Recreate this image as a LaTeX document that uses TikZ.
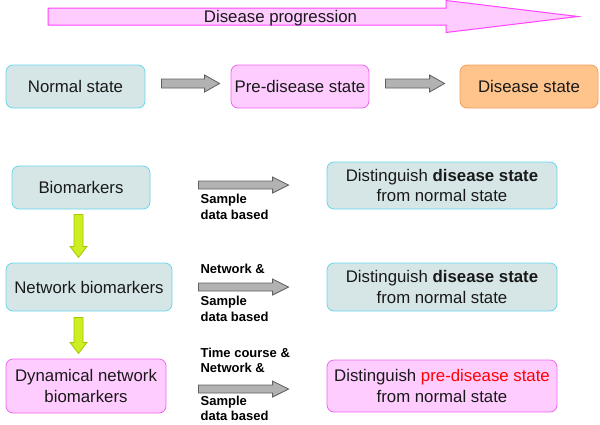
\documentclass[tikz,border=0pt]{standalone}
\usepackage{fontspec}
\setmainfont{Liberation Sans}
\usetikzlibrary{calc,positioning}
\newcommand{\panah}[6][]
	{
	\coordinate (tempc) at ($(#3)!#6!(#2)$);%start of head
	\filldraw[#1] ($(#2)!#4!90:(#3)$) -- ($(tempc)!#4!90:(#3)$) -- ($(tempc)!#5!90:(#3)$) -- (#3)
		-- ($(tempc)!#5!-90:(#3)$) -- ($(tempc)!#4!-90:(#3)$) -- ($(#2)!#4!-90:(#3)$) -- cycle;
	}
\definecolor{cyanfill}{RGB}{214,230,230}
\definecolor{cyanline}{RGB}{102,214,240}
\definecolor{pinkfill}{RGB}{255,204,255}
\definecolor{pinkline}{RGB}{238,102,238}
\definecolor{orangefill}{RGB}{255,196,140}
\definecolor{orangeline}{RGB}{240,160,96}
\definecolor{greyfill}{RGB}{178,178,178}
\definecolor{greyline}{RGB}{96,96,96}
\definecolor{greenfill}{RGB}{204,238,34}
\definecolor{greenline}{RGB}{160,200,0}
\definecolor{progline}{RGB}{255,68,255}
\tikzset{
	box/.style={draw, rounded corners=7pt, line width=0.8pt, align=center, inner sep=0pt,
		text depth=0pt, text=black!90, font=\fontsize{16.8}{20.5}\selectfont},
	cyanbox/.style={box, fill=cyanfill, draw=cyanline},
	pinkbox/.style={box, fill=pinkfill, draw=pinkline},
	orangebox/.style={box, fill=orangefill, draw=orangeline},
	greyarr/.style={fill=greyfill, draw=greyline, line width=0.8pt},
	greenarr/.style={fill=greenfill, draw=greenline, line width=0.8pt},
	progarr/.style={fill=pinkfill, draw=progline, line width=1pt},
	lbl/.style={align=left, inner sep=0pt, font=\fontsize{13}{15.5}\selectfont\bfseries}
}

\begin{document}
\begin{tikzpicture}[x=1pt,y=-1pt]
\useasboundingbox (0,0) rectangle (600,424);

% disease progression
\coordinate (pa) at (48,16.5);
\coordinate (pb) at (578,16.5);
\panah[progarr]{pa}{pb}{8.5pt}{16pt}{132pt}
\node[anchor=base, text=black!90, font=\fontsize{16.8}{20}\selectfont] (progres) at (280.5,22.5) {Disease progression};

% states
\node[cyanbox, minimum width=139pt, minimum height=43pt] (normal) at (75.5,86.5) {Normal state};
\node[pinkbox, minimum width=138pt, minimum height=43pt] (predis) at (300,86.5) {Pre-disease state};
\node[orangebox, minimum width=138pt, minimum height=43pt] (disease) at (529,86.5) {Disease state};

\coordinate (s1) at ($(normal.east)+(16,-3)$);
\coordinate (s2) at ($(predis.west)+(-11,-3)$);
\coordinate (s3) at ($(predis.east)+(16,-3)$);
\coordinate (s4) at ($(disease.west)+(-15,-3)$);
\panah[greyarr]{s1}{s2}{4.5pt}{8.5pt}{15pt}
\panah[greyarr]{s3}{s4}{4.5pt}{8.5pt}{15pt}

% biomarkers
\node[cyanbox, minimum width=138pt, minimum height=43pt] (bio) at (81,187.5) {Biomarkers};
\node[cyanbox, minimum width=166pt, minimum height=48pt] (net) at (89,287) {Network biomarkers};
\node[pinkbox, minimum width=160pt, minimum height=54pt] (dyn) at (86,386) {Dynamical network\\biomarkers};

\coordinate (h1) at ($(bio.south)+(-2.5,5)$);
\coordinate (h2) at ($(bio.south)+(-2.5,48)$);
\coordinate (h3) at ($(net.south)+(-10.5,6)$);
\coordinate (h4) at ($(net.south)+(-10.5,42)$);
\panah[greenarr]{h1}{h2}{4.5pt}{8.5pt}{11pt}
\panah[greenarr]{h3}{h4}{4.5pt}{8.5pt}{11pt}

% what each one distinguishes
\node[cyanbox, minimum width=230pt, minimum height=47pt] (dist1) at (442,185.5) {Distinguish \textbf{disease state}\\from normal state};
\node[cyanbox, minimum width=230pt, minimum height=48pt] (dist2) at (442,287) {Distinguish \textbf{disease state}\\from normal state};
\node[pinkbox, minimum width=230pt, minimum height=52pt] (dist3) at (442,386) {Distinguish \textcolor{red}{pre-disease state}\\from normal state};

\coordinate (g1) at ($(bio.east)+(48,-2.5)$);
\coordinate (g2) at ($(dist1.west)+(-38,-0.5)$);
\coordinate (g3) at ($(net.east)+(26,0)$);
\coordinate (g4) at ($(dist2.west)+(-38,0)$);
\coordinate (g5) at ($(dyn.east)+(32,3)$);
\coordinate (g6) at ($(dist3.west)+(-38,3)$);
\panah[greyarr]{g1}{g2}{4pt}{8pt}{16pt}
\panah[greyarr]{g3}{g4}{4pt}{8pt}{16pt}
\panah[greyarr]{g5}{g6}{4pt}{8pt}{16pt}

% data labels
\node[lbl, anchor=north west] (l1) at ($(g1)+(2,9)$) {Sample\\data based};
\node[lbl, anchor=base west] (l2a) at ($(g3)+(2,-14)$) {Network \&};
\node[lbl, anchor=north west] (l2b) at ($(g3)+(2,9)$) {Sample\\data based};
\node[lbl, anchor=south west] (l3a) at ($(g5)+(2,-16)$) {Time course \&\\Network \&};
\node[lbl, anchor=north west] (l3b) at ($(g5)+(2,6.5)$) {Sample\\data based};

\end{tikzpicture}
\end{document}
